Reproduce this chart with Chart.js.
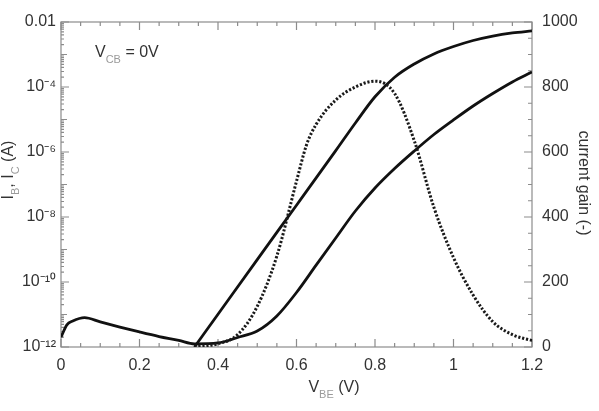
<!DOCTYPE html>
<html>
<head>
<meta charset="utf-8">
<title>Gummel plot</title>
<script src="https://cdn.jsdelivr.net/npm/chart.js@4.4.1/dist/chart.umd.min.js"></script>
<style>
  html, body { margin: 0; padding: 0; background: #fff; }
</style>
</head>
<body>
<canvas id="gummel-canvas" width="599" height="411"></canvas>
<script>
// base current I_B (A) vs V_BE (V)
var vbeBase = [0, 0.015, 0.03, 0.06, 0.1, 0.15, 0.2, 0.25, 0.3, 0.34, 0.4, 0.45, 0.5, 0.55, 0.6, 0.65, 0.7, 0.75, 0.8, 0.85, 0.9, 0.95, 1.0, 1.05, 1.1, 1.15, 1.2];
var baseCurrent = [2.0e-12, 4.8e-12, 6.3e-12, 8.0e-12, 5.9e-12, 4.1e-12, 2.9e-12, 2.1e-12, 1.6e-12, 1.25e-12, 1.33e-12, 1.96e-12, 3.1e-12, 9.0e-12, 4.75e-11, 3.3e-10, 2.26e-9, 1.53e-8, 7.8e-8, 3.1e-7, 1.07e-6, 3.45e-6, 9.7e-6, 2.6e-5, 6.3e-5, 1.43e-4, 2.9e-4];

// collector current I_C (A)
var vbeCollector = [0.34, 0.4, 0.5, 0.6, 0.7, 0.75, 0.8, 0.85, 0.9, 0.95, 1.0, 1.05, 1.1, 1.15, 1.2];
var collectorCurrent = [1.0e-12, 1.02e-11, 4.9e-10, 2.3e-8, 1.1e-6, 7.8e-6, 5.0e-5, 2.0e-4, 5.1e-4, 1.04e-3, 1.76e-3, 2.7e-3, 3.7e-3, 4.6e-3, 5.3e-3];

// current gain (-)
var vbeGain = [0.34, 0.4, 0.45, 0.5, 0.55, 0.6, 0.625, 0.65, 0.7, 0.75, 0.8, 0.85, 0.9, 0.95, 1.0, 1.05, 1.1, 1.15, 1.2];
var currentGain = [0, 10, 38, 125, 280, 510, 620, 685, 760, 800, 818, 780, 635, 430, 275, 160, 78, 38, 20];

// tick labels
var voltageTicks = [0, 0.2, 0.4, 0.6, 0.8, 1.0, 1.2];
var voltageLabels = ["0", "0.2", "0.4", "0.6", "0.8", "1", "1.2"];
var currentTicks = [1e-12, 1e-10, 1e-8, 1e-6, 1e-4, 1e-2];
var currentLabels = ["10\u207B\u00B9\u00B2", "10\u207B\u00B9\u2070", "10\u207B\u2078", "10\u207B\u2076", "10\u207B\u2074", "0.01"];
var gainTicks = [0, 200, 400, 600, 800, 1000];

function toPoints(xs, ys) {
  return xs.map(function (x, i) { return { x: x, y: ys[i] }; });
}

var mainFont = "16px 'Liberation Sans', Arial, sans-serif";
var subFont = "11px 'Liberation Sans', Arial, sans-serif";
var textColor = "#333";
var subColor = "#9a9a9a";
var frameColor = "#8c8c8c";

// text with subscripts, centred (or left aligned) on x, baseline y
function drawParts(ctx, parts, x, y, leftAlign) {
  var total = 0;
  parts.forEach(function (p) {
    ctx.font = p[1] ? subFont : mainFont;
    total += ctx.measureText(p[0]).width;
  });
  var cx = leftAlign ? x : x - total / 2;
  ctx.textAlign = "left";
  ctx.textBaseline = "alphabetic";
  parts.forEach(function (p) {
    ctx.font = p[1] ? subFont : mainFont;
    ctx.fillStyle = p[1] ? subColor : textColor;
    ctx.fillText(p[0], cx, p[1] ? y + 6 : y);
    cx += ctx.measureText(p[0]).width;
  });
}

//- inward tick marks and frame -
var innerTicks = {
  id: "innerTicks",
  beforeDatasetsDraw: function (chart) {
    var ctx = chart.ctx, a = chart.chartArea;
    var sx = chart.scales.x, sl = chart.scales.yCurrent, sr = chart.scales.yGain;
    ctx.save();
    ctx.strokeStyle = frameColor;
    ctx.lineWidth = 1.2;
    ctx.strokeRect(a.left, a.top, a.right - a.left, a.bottom - a.top);
    ctx.beginPath();
    for (var i = 0; i <= 24; i++) {
      var px = sx.getPixelForValue(i * 0.05);
      var len = i % 4 === 0 ? 8 : 4;
      ctx.moveTo(px, a.bottom); ctx.lineTo(px, a.bottom - len);
      ctx.moveTo(px, a.top); ctx.lineTo(px, a.top + len);
    }
    for (var e = -12; e <= -2; e++) {
      for (var m = 1; m <= 9; m++) {
        if (e === -2 && m > 1) break;
        var py = sl.getPixelForValue(m * Math.pow(10, e));
        var l = m === 1 ? (e % 2 === 0 ? 8 : 6) : 3;
        ctx.moveTo(a.left, py); ctx.lineTo(a.left + l, py);
      }
    }
    for (var g = 0; g <= 1000; g += 50) {
      var py2 = sr.getPixelForValue(g);
      var l2 = g % 200 === 0 ? 8 : 4;
      ctx.moveTo(a.right, py2); ctx.lineTo(a.right - l2, py2);
    }
    ctx.stroke();
    ctx.restore();
  }
};

//- axis titles and annotation -
var titles = {
  id: "titles",
  afterDraw: function (chart) {
    var ctx = chart.ctx;
    ctx.save();
    drawParts(ctx, [["V", 0], ["CB", 1], [" = 0V", 0]], 95, 57, true);
    drawParts(ctx, [["V", 0], ["BE", 1], [" (V)", 0]], 334, 392, false);
    ctx.save();
    ctx.translate(13, 170);
    ctx.rotate(-Math.PI / 2);
    drawParts(ctx, [["I", 0], ["B", 1], [", I", 0], ["C", 1], [" (A)", 0]], 0, 0, false);
    ctx.restore();
    ctx.save();
    ctx.translate(579, 183);
    ctx.rotate(Math.PI / 2);
    drawParts(ctx, [["current gain (-)", 0]], 0, 0, false);
    ctx.restore();
    ctx.restore();
  }
};

var gummelCanvas = document.getElementById("gummel-canvas");

var gummelChart = new Chart(gummelCanvas, {
  type: "line",
  data: {
    datasets: [
      {
        label: "current gain",
        data: toPoints(vbeGain, currentGain),
        yAxisID: "yGain",
        borderColor: "#1a1a1a",
        borderWidth: 3,
        borderDash: [2.2, 1.8],
        pointRadius: 0,
        cubicInterpolationMode: "monotone",
        fill: false,
      },
      {
        label: "I_C",
        data: toPoints(vbeCollector, collectorCurrent),
        yAxisID: "yCurrent",
        borderColor: "#111",
        borderWidth: 2.8,
        pointRadius: 0,
        cubicInterpolationMode: "monotone",
        fill: false,
      },
      {
        label: "I_B",
        data: toPoints(vbeBase, baseCurrent),
        yAxisID: "yCurrent",
        borderColor: "#111",
        borderWidth: 2.8,
        pointRadius: 0,
        cubicInterpolationMode: "monotone",
        fill: false,
      },
    ],
  },
  options: {
    responsive: false,
    animation: false,
    events: [],
    layout: { padding: { top: 22, left: 0, right: 0, bottom: 0 } },
    plugins: { legend: { display: false }, tooltip: { enabled: false } },
    scales: {
      x: {
        type: "linear",
        min: 0,
        max: 1.2,
        grid: { display: false, drawTicks: false },
        border: { display: false },
        afterBuildTicks: function (s) {
          s.ticks = voltageTicks.map(function (v) { return { value: v }; });
        },
        afterFit: function (s) { s.height = 64; },
        ticks: {
          padding: 9,
          color: textColor,
          font: { family: "'Liberation Sans', Arial, sans-serif", size: 16 },
          maxRotation: 0,
          autoSkip: false,
          callback: function (v, i) { return voltageLabels[i]; },
        },
      },
      yCurrent: {
        type: "logarithmic",
        position: "left",
        min: 1e-12,
        max: 1e-2,
        grid: { display: false, drawTicks: false },
        border: { display: false },
        afterBuildTicks: function (s) {
          s.ticks = currentTicks.map(function (v) { return { value: v }; });
        },
        afterFit: function (s) { s.width = 61; },
        ticks: {
          padding: 5,
          color: textColor,
          font: { family: "'Liberation Sans', Arial, sans-serif", size: 16 },
          autoSkip: false,
          callback: function (v, i) { return currentLabels[i]; },
        },
      },
      yGain: {
        type: "linear",
        position: "right",
        min: 0,
        max: 1000,
        grid: { display: false, drawTicks: false },
        border: { display: false },
        afterBuildTicks: function (s) {
          s.ticks = gainTicks.map(function (v) { return { value: v }; });
        },
        afterFit: function (s) { s.width = 67; },
        ticks: {
          padding: 10,
          color: textColor,
          font: { family: "'Liberation Sans', Arial, sans-serif", size: 16 },
          autoSkip: false,
          callback: function (v) { return String(v); },
        },
      },
    },
  },
  plugins: [innerTicks, titles],
});
</script>
</body>
</html>
